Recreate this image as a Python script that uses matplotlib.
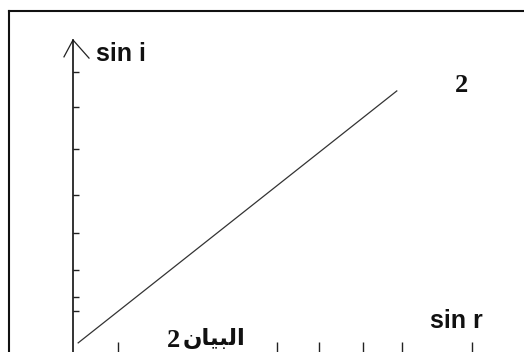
import matplotlib
matplotlib.use("Agg")
import matplotlib.pyplot as plt
from matplotlib.lines import Line2D

# ---- data (arbitrary units) ----
sin_r = [0.12, 7.53]
sin_i = [0.24, 6.87]
x_ticks = [1.05, 4.74, 5.72, 6.74, 7.65, 9.28]
y_ticks = [1.08, 1.45, 2.16, 3.13, 4.13, 5.34, 6.45, 7.37]
x_label = "sin r"
y_label = "sin i"
graph_number = "2"
caption_num = "2"
caption_word = "\uFEE5\uFE8E\uFEF4\uFE92\uFEDF\uFE8D"  # البيان (visual order, shaped)

W, H = 524, 352
fig = plt.figure(figsize=(W / 100, H / 100), dpi=100)
fig.patch.set_facecolor("white")

# outer frame (left and top edges visible)
fx = 8.5 / W
fy = 1 - 11 / H
fig.add_artist(Line2D([fx, fx], [0, fy], transform=fig.transFigure, color="#111", lw=1.5))
fig.add_artist(Line2D([fx, 1], [fy, fy], transform=fig.transFigure, color="#111", lw=1.5))

# axes: origin at left spine x=73px, bottom of image; top at arrow tip y=40px
left_px, top_px = 73, 40
ax = fig.add_axes([left_px / W, 0, (W - left_px) / W, (H - top_px) / H])
ax.set_facecolor("none")
ax.set_xlim(0, (W - left_px) / 43)
ax.set_ylim(0, (H - top_px) / 38)
for s in ["top", "right", "bottom"]:
    ax.spines[s].set_visible(False)
ax.spines["left"].set_linewidth(1.2)
ax.spines["left"].set_color("#111")

ax.set_xticks(x_ticks)
ax.set_yticks(y_ticks)
ax.set_xticklabels([])
ax.set_yticklabels([])
ax.tick_params(axis="x", direction="in", length=7, width=1, color="#222")
ax.tick_params(axis="y", direction="in", length=4, width=1, color="#222")

# data line
ax.plot(sin_r, sin_i, color="#333", lw=0.9, clip_on=False)

# arrow head at top of vertical axis
ax.plot([-0.02, 0, 0.0355], [0.946, 1.0, 0.942], transform=ax.transAxes,
        color="#222", lw=0.9, clip_on=False)

# labels
fig.text(96 / W, 1 - 61 / H, y_label, fontsize=18, fontweight="bold",
         family="Liberation Sans", va="baseline", ha="left", color="#111")
fig.text(430 / W, 1 - 328 / H, x_label, fontsize=18, fontweight="bold",
         family="Liberation Sans", va="baseline", ha="left", color="#111")
fig.text(455 / W, 1 - 92 / H, graph_number, fontsize=19, fontweight="bold",
         family="Liberation Serif", va="baseline", ha="left", color="#111")
fig.text(167 / W, 1 - 347 / H, caption_num, fontsize=19, fontweight="bold",
         family="Liberation Serif", va="baseline", ha="left", color="#111")
fig.text(183 / W, 1 - 345 / H, caption_word, fontsize=16.5, fontweight="bold",
         family=["DejaVu Sans"], va="baseline", ha="left", color="#111")

fig.savefig("out.png", dpi=100, facecolor="white")
